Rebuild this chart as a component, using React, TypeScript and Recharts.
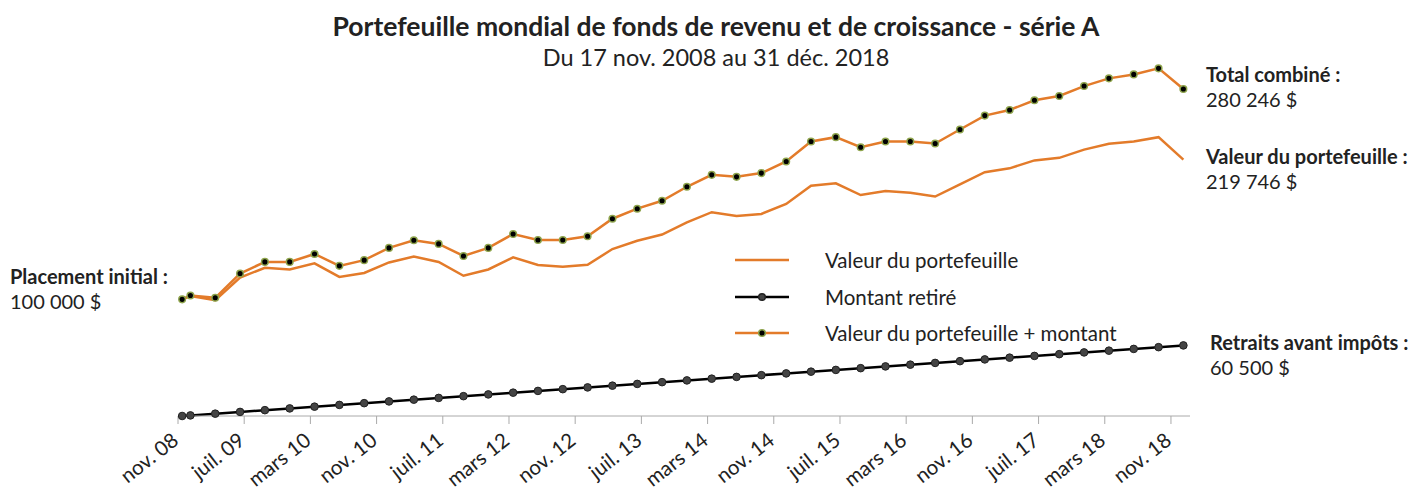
import { LineChart, Line, XAxis, YAxis } from 'recharts';

// quarter dates (year-month) of each point
const dates = [
  '2008-11', '2008-12', '2009-03', '2009-06', '2009-09', '2009-12', '2010-03', '2010-06', '2010-09', '2010-12',
  '2011-03', '2011-06', '2011-09', '2011-12', '2012-03', '2012-06', '2012-09', '2012-12', '2013-03', '2013-06',
  '2013-09', '2013-12', '2014-03', '2014-06', '2014-09', '2014-12', '2015-03', '2015-06', '2015-09', '2015-12',
  '2016-03', '2016-06', '2016-09', '2016-12', '2017-03', '2017-06', '2017-09', '2017-12', '2018-03', '2018-06',
  '2018-09', '2018-12',
];

const portfolioValue = [
  100000, 102800, 99300, 118600, 127100, 125600, 130900, 119200, 122600, 131600,
  136700, 132000, 120200, 125600, 136000, 129400, 127900, 129600, 143100, 150200,
  155500, 166000, 174700, 171500, 173200, 181700, 197300, 199500, 189400, 192800,
  191300, 188100, 198600, 209000, 212300, 219100, 221300, 228300, 233400, 235300,
  239000, 219746,
];

const amountWithdrawn = [
  0, 500, 2000, 3500, 5000, 6500, 8000, 9500, 11000, 12500,
  14000, 15500, 17000, 18500, 20000, 21500, 23000, 24500, 26000, 27500,
  29000, 30500, 32000, 33500, 35000, 36500, 38000, 39500, 41000, 42500,
  44000, 45500, 47000, 48500, 50000, 51500, 53000, 54500, 56000, 57500,
  59000, 60500,
];

const combinedTotal = [
  100000, 103300, 101300, 122100, 132100, 132100, 138900, 128700, 133600, 144100,
  150700, 147500, 137200, 144100, 156000, 150900, 150900, 154100, 169100, 177700,
  184500, 196500, 206700, 205000, 208200, 218200, 235300, 239000, 230400, 235300,
  235300, 233600, 245600, 257500, 262300, 270600, 274300, 282800, 289400, 292800,
  298000, 280246,
];

// x tick positions (months since nov. 2008) and their labels
const tickMonths = [0, 8, 16, 24, 32, 40, 48, 56, 64, 72, 80, 88, 96, 104, 112, 120];
const tickLabels = [
  'nov. 08', 'juil. 09', 'mars 10', 'nov. 10', 'juil. 11', 'mars 12', 'nov. 12', 'juil. 13',
  'mars 14', 'nov. 14', 'juil. 15', 'mars 16', 'nov. 16', 'juil. 17', 'mars 18', 'nov. 18',
];

const ORANGE = '#e37b2a';
const FONT = 'Lato, "Open Sans", sans-serif';
const TEXT = '#222';

const monthIndex = (d: string) => {
  const [y, m] = d.split('-').map(Number);
  return (y - 2008) * 12 + (m - 11) + 0.5;
};

const data = dates.map((d, i) => ({
  x: monthIndex(d),
  portfolio: portfolioValue[i],
  withdrawn: amountWithdrawn[i],
  total: combinedTotal[i],
}));

const AxisTick = (props: any) => {
  const { x, y, payload } = props;
  const i = tickMonths.indexOf(payload.value);
  return (
    <g transform={`translate(${x + 2},${y + 17})`}>
      <text
        textAnchor="end"
        transform="rotate(-38)"
        fill={TEXT}
        fontSize={20.5}
        fontFamily={FONT}
      >
        {tickLabels[i]}
      </text>
    </g>
  );
};

const legendItems = [
  { label: 'Valeur du portefeuille', color: ORANGE, dot: null as null | { fill: string; stroke: string } },
  { label: 'Montant retiré', color: '#000', dot: { fill: '#444', stroke: '#222' } },
  { label: 'Valeur du portefeuille + montant', color: ORANGE, dot: { fill: '#000', stroke: '#8ea44c' } },
];

const Note = ({ x, y, title, value }: { x: number; y: number; title: string; value: string }) => (
  <div style={{ position: 'absolute', left: x, top: y, fontFamily: FONT, fontSize: 20, color: TEXT, lineHeight: '25px', whiteSpace: 'nowrap' }}>
    <div style={{ fontWeight: 700 }}>{title}</div>
    <div>{value}</div>
  </div>
);

export default function App() {
  return (
    <div style={{ position: 'absolute', left: 0, top: 0, width: 1412, height: 493, background: '#fff', overflow: 'hidden' }}>
      <div style={{ position: 'absolute', left: 0, top: 10, width: 1432, textAlign: 'center', fontFamily: FONT, color: TEXT }}>
        <div style={{ fontSize: 26.5, fontWeight: 700, lineHeight: '32px' }}>
          Portefeuille mondial de fonds de revenu et de croissance - série A
        </div>
        <div style={{ fontSize: 23.5, lineHeight: '30px' }}>Du 17 nov. 2008 au 31 déc. 2018</div>
      </div>

      <LineChart
        width={1412}
        height={493}
        data={data}
        margin={{ top: 66, right: 222, bottom: 17, left: 178 }}
      >
        <XAxis
          dataKey="x"
          type="number"
          domain={[0, 122.3]}
          ticks={tickMonths}
          interval={0}
          height={60}
          stroke="#aaa"
          tickSize={8}
          tick={<AxisTick />}
          allowDataOverflow
        />
        <YAxis hide domain={[0, 300000]} width={0} />
        <Line
          dataKey="portfolio"
          stroke={ORANGE}
          strokeWidth={2.5}
          dot={false}
          isAnimationActive={false}
        />
        <Line
          dataKey="withdrawn"
          stroke="#000"
          strokeWidth={2.5}
          dot={{ r: 3.8, fill: '#444', stroke: '#222', strokeWidth: 1 }}
          isAnimationActive={false}
        />
        <Line
          dataKey="total"
          stroke={ORANGE}
          strokeWidth={2.5}
          dot={{ r: 3.3, fill: '#000', stroke: '#8ea44c', strokeWidth: 1.5 }}
          isAnimationActive={false}
        />
      </LineChart>

      <div style={{ position: 'absolute', left: 733, top: 242, fontFamily: FONT, fontSize: 20.5, color: TEXT }}>
        {legendItems.map((item) => (
          <div key={item.label} style={{ display: 'flex', alignItems: 'center', height: 36.5 }}>
            <svg width={92} height={12}>
              <line x1={2} y1={6} x2={56} y2={6} stroke={item.color} strokeWidth={2.5} />
              {item.dot && <circle cx={29} cy={6} r={3.3} fill={item.dot.fill} stroke={item.dot.stroke} strokeWidth={1.5} />}
            </svg>
            <span>{item.label}</span>
          </div>
        ))}
      </div>

      <Note x={10} y={264} title="Placement initial :" value="100 000 $" />
      <Note x={1206} y={62} title="Total combiné :" value="280 246 $" />
      <Note x={1206} y={144} title="Valeur du portefeuille :" value="219 746 $" />
      <Note x={1210} y={330} title="Retraits avant impôts :" value="60 500 $" />
    </div>
  );
}
